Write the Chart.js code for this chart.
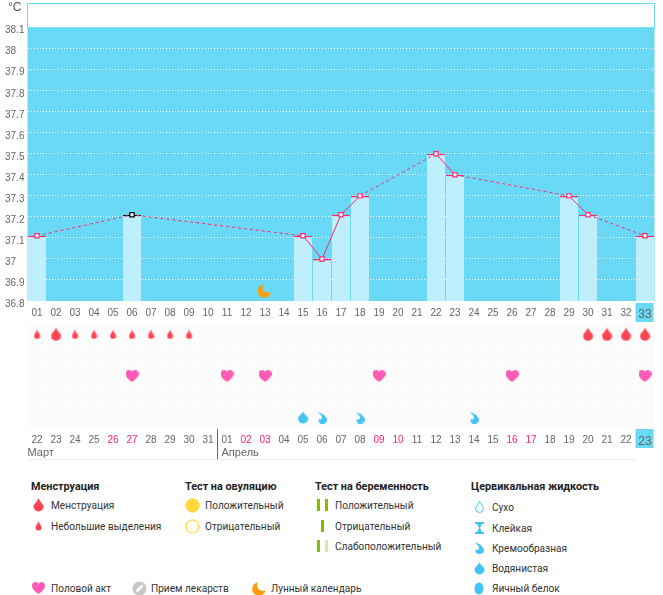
<!DOCTYPE html>
<html lang="ru">
<head>
<meta charset="utf-8">
<title>График</title>
<style>
  html, body { margin: 0; padding: 0; background: #fff; }
  #page { position: relative; width: 663px; height: 595px; overflow: hidden; font-family: Roboto, sans-serif; }
  #tempChart { position: absolute; left: 0; top: 0; }
  #rowsChart { position: absolute; left: 0; top: 323px; }
  .unit { position: absolute; left: 8px; top: 0; font: 12px "Liberation Sans", sans-serif; color: #555; }
  .leg { position: absolute; white-space: nowrap; font-size: 10.1px; line-height: 14px; color: #333; }
  .leg.title { font-size: 10.8px; font-weight: 700; color: #222; }
  .ico { position: absolute; }
</style>
</head>
<body>
<div id="page">
  <canvas id="tempChart" width="663" height="323"></canvas>
  <canvas id="rowsChart" width="663" height="145"></canvas>
  <div class="unit">°C</div>
</div>
<script src="https://cdn.jsdelivr.net/npm/chart.js@4"></script>
<script>
const cycleDays = ['01','02','03','04','05','06','07','08','09','10','11','12','13','14','15','16','17','18','19','20','21','22','23','24','25','26','27','28','29','30','31','32','33'];
const calendarDates = ['22','23','24','25','26','27','28','29','30','31','01','02','03','04','05','06','07','08','09','10','11','12','13','14','15','16','17','18','19','20','21','22','23'];
const weekendDates = [5,6,12,13,19,20,26,27]; // position in calendarDates, from 1
const tempTicks = [36.8,36.9,37,37.1,37.2,37.3,37.4,37.5,37.6,37.7,37.8,37.9,38,38.1];
const temperatures = [37.11,null,null,null,null,37.21,null,null,null,null,null,null,null,null,37.11,37.0,37.21,37.3,null,null,null,37.5,37.4,null,null,null,null,null,37.3,37.21,null,null,37.11];
const rowNames = ['Менструация','Овуляция','Половой акт','Беременность','Жидкость'];
const heavyDays = [2,30,31,32,33];
const spottingDays = [1,3,4,5,6,7,8,9];
const heartDays = [6,11,13,19,26,33];
const wateryDays = [15];
const creamyDays = [16,18,24];
const moonDays = [13];
const months = [['Март',1],['Апрель',11]];

const CYAN = '#69d9f5';
const BAR = '#bfeefd';
const PINK = '#ff2a6e';
const GREY = '#666';
const FONT = '"Liberation Sans", sans-serif';
const COL = 19, CURRENT = 33, MARKED_DAY = 6;

// --- Icons ---
function sprite(w, h, draw) {
  const c = document.createElement('canvas');
  c.width = w; c.height = h;
  draw(c.getContext('2d'), w, h);
  return c;
}
function dropPath(g, w, h) {
  const r = w / 2 - 0.5, cy = h - r - 0.5;
  g.beginPath();
  g.moveTo(w / 2, 0.3);
  g.bezierCurveTo(w / 2 + r * 0.3, h * 0.3, w / 2 + r, cy - r * 0.5, w / 2 + r, cy);
  g.arc(w / 2, cy, r, 0, Math.PI);
  g.bezierCurveTo(w / 2 - r, cy - r * 0.5, w / 2 - r * 0.3, h * 0.3, w / 2, 0.3);
  g.closePath();
}
function drop(w, h, color) {
  return sprite(w, h, g => { dropPath(g, w, h); g.fillStyle = color; g.fill(); });
}
function heart(w, h) {
  return sprite(w, h, g => {
    g.fillStyle = '#ff5ab4';
    g.beginPath();
    g.moveTo(w / 2, h);
    g.bezierCurveTo(w * 0.25, h * 0.82, 0, h * 0.6, 0, h * 0.32);
    g.bezierCurveTo(0, h * 0.08, w * 0.15, 0, w * 0.28, 0);
    g.bezierCurveTo(w * 0.38, 0, w * 0.46, h * 0.06, w / 2, h * 0.16);
    g.bezierCurveTo(w * 0.54, h * 0.06, w * 0.62, 0, w * 0.72, 0);
    g.bezierCurveTo(w * 0.85, 0, w, h * 0.08, w, h * 0.32);
    g.bezierCurveTo(w, h * 0.6, w * 0.75, h * 0.82, w / 2, h);
    g.fill();
  });
}
function moon(s) {
  return sprite(s, s, g => {
    g.fillStyle = '#ff9c0c';
    g.beginPath(); g.arc(s * 0.46, s * 0.54, s * 0.45, 0, 7); g.fill();
    g.globalCompositeOperation = 'destination-out';
    g.beginPath(); g.arc(s * 0.72, s * 0.28, s * 0.38, 0, 7); g.fill();
  });
}
function creamy(w, h) {
  return sprite(w, h, g => {
    g.fillStyle = '#45c3f4';
    g.beginPath();
    g.moveTo(0.5, 0.5);
    g.bezierCurveTo(w * 0.5, h * 0.1, w, h * 0.4, w, h * 0.68);
    g.bezierCurveTo(w, h * 0.9, w * 0.75, h, w * 0.55, h);
    g.bezierCurveTo(w * 0.25, h, w * 0.1, h * 0.8, w * 0.15, h * 0.62);
    g.bezierCurveTo(w * 0.3, h * 0.7, w * 0.55, h * 0.6, w * 0.5, h * 0.45);
    g.bezierCurveTo(w * 0.45, h * 0.3, w * 0.2, h * 0.15, 0.5, 0.5);
    g.fill();
  });
}
const dryIcon = () => sprite(11, 14, g => { g.translate(1, 1); dropPath(g, 9, 12); g.strokeStyle = '#45c3f4'; g.stroke(); });
const stickyIcon = () => sprite(9, 12, g => {
  g.fillStyle = '#45c3f4';
  g.fillRect(0, 0, 9, 2); g.fillRect(0, 10, 9, 2);
  g.beginPath(); g.moveTo(2, 2); g.lineTo(7, 2); g.lineTo(5, 6); g.lineTo(7, 10); g.lineTo(2, 10); g.lineTo(4, 6); g.fill();
});
const eggIcon = () => sprite(10, 13, g => { g.fillStyle = '#45c3f4'; g.beginPath(); g.ellipse(5, 6.5, 4.5, 6, 0, 0, 7); g.fill(); });
const pillIcon = () => sprite(15, 15, g => {
  g.fillStyle = '#c6c6c6'; g.beginPath(); g.arc(7.5, 7.5, 7, 0, 7); g.fill();
  g.strokeStyle = '#fff'; g.lineWidth = 2.5; g.beginPath(); g.moveTo(4.5, 10.5); g.lineTo(10.5, 4.5); g.stroke();
});
const ovuIcon = full => sprite(15, 15, g => {
  g.beginPath(); g.arc(7.5, 7.5, full ? 7.2 : 6.5, 0, 7);
  if (full) { g.fillStyle = '#ffd93b'; g.fill(); } else { g.strokeStyle = '#ffd93b'; g.lineWidth = 1.2; g.stroke(); }
});
const stripes = (first, second) => sprite(11, 12, g => {
  if (second) {
    g.fillStyle = first; g.fillRect(0, 0, 3, 12);
    g.fillStyle = second; g.fillRect(8, 0, 3, 12);
  } else { g.fillStyle = first; g.fillRect(4, 0, 3, 12); }
});

const RED = '#ff4552', BLUE = '#45c3f4', GREEN = '#7fbf00', PALE = '#d3e8b0';
const heavyIcon = drop(11, 14, RED);
const spotIcon = drop(7, 10, RED);
const heartIcon = heart(13, 12);
const waterIcon = drop(11, 13, BLUE);
const creamIcon = creamy(10, 12);
const moonIcon = moon(15);

// --- Temperature chart ---
const backdrop = {
  id: 'backdrop',
  beforeDraw(chart) {
    const { ctx, chartArea: a, scales: { x, y } } = chart;
    const top = y.getPixelForValue(38.1);
    ctx.save();
    ctx.fillStyle = CYAN;
    ctx.fillRect(a.left, top, a.width, a.bottom - top);
    ctx.strokeStyle = CYAN;
    ctx.strokeRect(Math.floor(a.left) + 0.5, Math.floor(a.top) + 0.5, Math.round(a.width), top - a.top);
    ctx.fillRect(x.getPixelForValue(CURRENT - 1) - COL / 2, a.bottom + 2, COL - 1, 19);
    ctx.restore();
  }
};

const isCurrent = c => c.index === CURRENT - 1;
const skipped = (c, value) => (c.p0.skip || c.p1.skip ? value : undefined);

new Chart(document.getElementById('tempChart'), {
  type: 'bar',
  plugins: [backdrop],
  data: {
    labels: cycleDays,
    datasets: [
      {
        type: 'scatter',
        order: 0,
        data: moonDays.map(d => ({ x: cycleDays[d - 1], y: 36.85 })),
        pointStyle: moonIcon,
        pointRadius: 7
      },
      {
        type: 'line',
        order: 1,
        data: temperatures,
        spanGaps: true,
        borderColor: PINK,
        borderWidth: 1,
        pointStyle: 'rect',
        pointRadius: 3,
        pointBorderWidth: 1.2,
        pointBackgroundColor: '#fff',
        pointBorderColor: c => (c.dataIndex === MARKED_DAY - 1 ? '#000' : PINK),
        segment: { borderDash: c => skipped(c, [3, 3]) }
      },
      {
        type: 'bar',
        order: 2,
        data: temperatures,
        backgroundColor: BAR,
        borderColor: c => (c.dataIndex === MARKED_DAY - 1 ? '#000' : PINK),
        borderWidth: { top: 1.5 },
        borderSkipped: false,
        barPercentage: 18 / 19,
        categoryPercentage: 1
      }
    ]
  },
  options: {
    responsive: false,
    animation: false,
    layout: { autoPadding: false, padding: { left: 5, right: 8.5, top: 3.5, bottom: 0 } },
    plugins: { legend: { display: false }, tooltip: { enabled: false } },
    scales: {
      x: {
        afterFit: s => { s.height = 22; s.paddingLeft = 0; s.paddingRight = 0; },
        border: { display: false },
        grid: { display: false, drawTicks: false },
        ticks: {
          autoSkip: false, maxRotation: 0, padding: 6,
          color: GREY,
          font: c => ({ family: FONT, size: isCurrent(c) ? 12 : 10 })
        }
      },
      y: {
        min: 36.8,
        max: 38.215,
        afterBuildTicks: s => { s.ticks = tempTicks.map(value => ({ value })); },
        afterFit: s => { s.width = 22.5; s.paddingTop = 0; s.paddingBottom = 0; },
        border: { display: false, dash: [1, 2] },
        grid: {
          drawTicks: false,
          color: c => (c.tick.value === 38.1 ? 'transparent' : '#fff')
        },
        ticks: {
          crossAlign: 'far',
          labelOffset: 3,
          color: GREY,
          font: { family: FONT, size: 10 },
          callback: v => String(Math.round(v * 10) / 10)
        }
      }
    }
  }
});

// --- Marker rows and dates ---
const rowsBack = {
  id: 'rowsBack',
  beforeDraw(chart) {
    const { ctx, chartArea: a, scales: { x } } = chart;
    ctx.save();
    ctx.fillStyle = '#fcfbfb';
    ctx.fillRect(a.left, a.top, a.width, a.height);
    ctx.fillStyle = CYAN;
    ctx.fillRect(x.getPixelForValue(CURRENT - 1) - COL / 2, a.bottom + 1, COL - 1, 19);
    ctx.restore();
  },
  afterDraw(chart) {
    const { ctx, chartArea: a, scales: { x } } = chart;
    const split = x.getPixelForValue(months[1][1] - 1) - COL / 2;
    ctx.save();
    ctx.strokeStyle = '#e8eeee';
    ctx.beginPath(); ctx.moveTo(a.left, a.bottom + 31.5); ctx.lineTo(x.getPixelForValue(31) + COL / 2, a.bottom + 31.5); ctx.stroke();
    ctx.strokeStyle = '#666';
    ctx.beginPath(); ctx.moveTo(split, a.bottom + 1); ctx.lineTo(split, a.bottom + 31); ctx.stroke();
    ctx.fillStyle = GREY;
    ctx.font = '11px ' + FONT;
    ctx.textBaseline = 'middle';
    months.forEach(([name, col], i) => {
      ctx.fillText(name, x.getPixelForValue(col - 1) - COL / 2 + (i ? 4 : 0), a.bottom + 25);
    });
    ctx.restore();
  }
};

const rowData = (days, row) => calendarDates.map((_, i) => (days.includes(i + 1) ? rowNames[row] : null));
const markers = (days, row, icon) => ({
  data: rowData(days, row),
  showLine: false,
  pointStyle: icon,
  pointRadius: 6
});

new Chart(document.getElementById('rowsChart'), {
  type: 'line',
  plugins: [rowsBack],
  data: {
    labels: calendarDates,
    datasets: [
      markers(spottingDays, 0, spotIcon),
      markers(heavyDays, 0, heavyIcon),
      markers(heartDays, 2, heartIcon),
      markers(wateryDays, 4, waterIcon),
      markers(creamyDays, 4, creamIcon)
    ]
  },
  options: {
    responsive: false,
    animation: false,
    layout: { autoPadding: false, padding: { left: 27.5, right: 8.5, top: 1, bottom: 0 } },
    plugins: { legend: { display: false }, tooltip: { enabled: false } },
    scales: {
      x: {
        offset: true,
        afterFit: s => { s.height = 40; s.paddingLeft = 0; s.paddingRight = 0; },
        border: { display: false },
        grid: { offset: true, color: '#fff', lineWidth: 1, drawTicks: false },
        ticks: {
          autoSkip: false, maxRotation: 0, padding: 6,
          color: c => (weekendDates.includes(c.index + 1) ? '#ff1e6e' : GREY),
          font: c => ({ family: FONT, size: isCurrent(c) ? 12 : 10 })
        }
      },
      y: {
        type: 'category',
        labels: rowNames,
        offset: true,
        afterFit: s => { s.width = 0; },
        border: { display: false },
        grid: { offset: true, color: '#fff', lineWidth: 1, drawTicks: false },
        ticks: { display: false }
      }
    }
  }
});

// --- Legend ---
const page = document.getElementById('page');
function text(label, x, y, title) {
  const el = document.createElement('div');
  el.className = title ? 'leg title' : 'leg';
  el.textContent = label;
  el.style.left = x + 'px';
  el.style.top = (y - 6) + 'px';
  page.appendChild(el);
}
function icon(c, cx, cy) {
  c.className = 'ico';
  c.style.left = Math.round(cx - c.width / 2) + 'px';
  c.style.top = Math.round(cy - c.height / 2) + 'px';
  page.appendChild(c);
}
const legendEntries = [
  ['Менструация', 51, 505, drop(11, 14, RED), 38],
  ['Небольшие выделения', 51, 526, drop(7, 10, RED), 38],
  ['Положительный', 205, 505, ovuIcon(true), 192],
  ['Отрицательный', 205, 526, ovuIcon(false), 192],
  ['Положительный', 335, 505, stripes(GREEN, GREEN), 322],
  ['Отрицательный', 335, 526, stripes(GREEN), 322],
  ['Слабоположительный', 335, 546, stripes(GREEN, PALE), 322],
  ['Сухо', 492, 507, dryIcon(), 479],
  ['Клейкая', 492, 528, stickyIcon(), 479],
  ['Кремообразная', 492, 548, creamy(10, 12), 479],
  ['Водянистая', 492, 568, drop(11, 13, BLUE), 479],
  ['Яичный белок', 492, 588, eggIcon(), 479],
  ['Половой акт', 51, 588, heart(13, 12), 38],
  ['Прием лекарств', 151, 588, pillIcon(), 139],
  ['Лунный календарь', 271, 588, moon(15), 259]
];
[['Менструация', 31], ['Тест на овуляцию', 185], ['Тест на беременность', 315], ['Цервикальная жидкость', 471]]
  .forEach(([t, x]) => text(t, x, 486, true));
legendEntries.forEach(([t, x, y, c, cx]) => { text(t, x, y); icon(c, cx, y); });
</script>
</body>
</html>
